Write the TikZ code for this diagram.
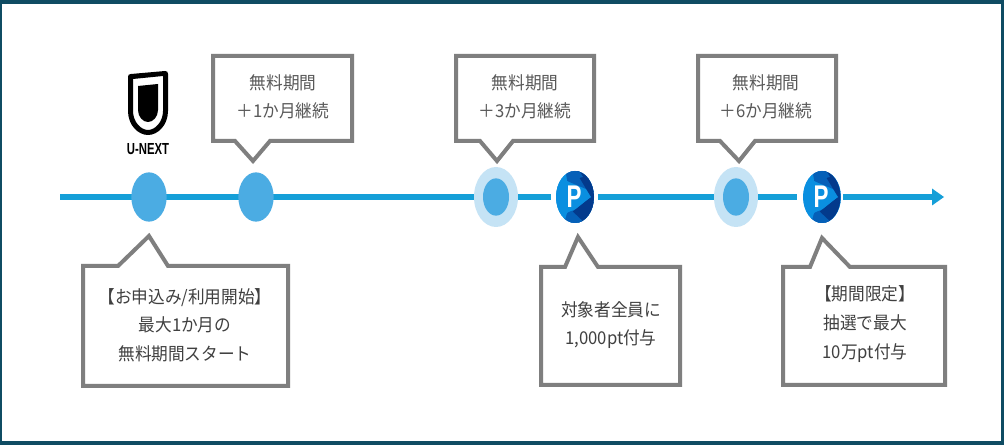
\documentclass[tikz,border=0pt]{standalone}
\usepackage{fontspec}
\setmainfont{Noto Sans CJK JP}
\newfontfamily\logofont{Liberation Sans}
\definecolor{framec}{HTML}{0F4C63}
\definecolor{linec}{HTML}{159FD8}
\definecolor{dotc}{HTML}{4BACE3}
\definecolor{haloc}{HTML}{C5E3F5}
\definecolor{boxc}{HTML}{7F7F7F}
\definecolor{textc}{HTML}{404040}
\definecolor{uptextc}{HTML}{595959}
\definecolor{pa}{HTML}{0A8FE0}
\definecolor{pb}{HTML}{0560B8}
\definecolor{pc}{HTML}{033A8C}
\usetikzlibrary{shapes.geometric,calc}
\tikzset{
  callout/.style={draw=boxc,line width=3pt,fill=white,line join=miter,miter limit=10},
  calltext/.style={text=textc,font=\fontsize{12.5}{20.3}\selectfont,align=center,inner sep=0pt,yscale=1.06},
  uptext/.style={calltext,text=uptextc,font=\fontsize{12.5}{19.6}\selectfont},
  timeline/.style={draw=linec,line width=3.8pt},
  dot/.style={ellipse,fill=dotc,minimum width=26.5pt,minimum height=37pt,inner sep=0pt},
  halo/.style={ellipse,fill=haloc,minimum width=33pt,minimum height=45pt,inner sep=0pt},
  innerdot/.style={ellipse,fill=dotc,minimum width=19.5pt,minimum height=28pt,inner sep=0pt},
  pmark/.style={ellipse,fill=pa,minimum width=28.5pt,minimum height=39pt,inner sep=0pt},
}
\newcommand{\pointmark}[3]{%
  \node[pmark] (#1) at (#2,197) {};
  \begin{scope}[shift={(#2,197)}]
    \clip (0,0) ellipse [x radius=#3,y radius=26];
    \fill[pb] (-10,-30) -- (30,-30) -- (30,0) -- (-8,-16) -- cycle;
    \fill[pb] (-14,30) -- (30,30) -- (30,0) -- (-8,16) -- cycle;
    \fill[pc] (-2,-30) -- (30,-30) -- (30,30) -- (8,30) -- (-4,16) -- (16,0) -- cycle;
    \fill[pb] (-14,30) -- (14,30) -- (-3,14) -- (-9,16) -- cycle;
    \fill[pb] (-10,-30) -- (2,-30) -- (8,-20) -- (-8,-16) -- cycle;
    \fill[pa] (-30,-30) -- (-10,-30) -- (-8,-16) -- (16,0) -- (-8,16) -- (-12,30) -- (-30,30) -- cycle;
  \end{scope}
  \node[text=white,font=\logofont\bfseries\fontsize{21}{21}\selectfont,inner sep=0pt,xscale=0.8,yscale=1.12] (#1t) at ($(#2,197)+(-1,0)$) {P};
}
\begin{document}
\begin{tikzpicture}[x=0.75pt,y=-0.75pt]
\useasboundingbox (0,0) rectangle (1004,445);
\fill[framec] (0,0) rectangle (1004,445);
\fill[white] (2,4) rectangle (1001,441);

% timeline
\coordinate (s0) at (60,197);
\coordinate (s1) at (474,197);
\coordinate (s2) at (518,197);
\coordinate (s3) at (551,197);
\coordinate (s4) at (598,197);
\coordinate (s5) at (714,197);
\coordinate (s6) at (758,197);
\coordinate (s7) at (797,197);
\coordinate (s8) at (843,197);
\coordinate (s9) at (933,197);
\draw[timeline] (s0) -- (s1);
\draw[timeline] (s2) -- (s3);
\draw[timeline] (s4) -- (s5);
\draw[timeline] (s6) -- (s7);
\draw[timeline] (s8) -- (s9);
\coordinate (hu) at (932,188.5);
\coordinate (hd) at (932,205.5);
\coordinate (ht) at (944,197);
\fill[linec] (hu) -- (ht) -- (hd) -- cycle;

% markers
\node[dot] (m1) at (149,197) {};
\node[dot] (m2) at (256,197) {};
\node[halo] (h3) at (496,197) {};
\node[innerdot] (m3) at (496,197) {};
\node[halo] (h4) at (736,197) {};
\node[innerdot] (m4) at (736,197) {};
\pointmark{p1}{575}{19}
\pointmark{p2}{822}{18.5}

% upper callouts
\draw[callout] (213,56) -- (352,56) -- (352,141) -- (270,141) -- (253,161) -- (235,141) -- (213,141) -- cycle;
\node[uptext] (t1) at (283,97) {無料期間\\＋1か月継続};
\draw[callout] (456,56) -- (594,56) -- (594,141) -- (513,141) -- (497,161) -- (480,141) -- (456,141) -- cycle;
\node[uptext] (t2) at (525,97) {無料期間\\＋3か月継続};
\draw[callout] (698,56) -- (836,56) -- (836,141) -- (755,141) -- (739,161) -- (720,141) -- (698,141) -- cycle;
\node[uptext] (t3) at (766,97) {無料期間\\＋6か月継続};

% lower callouts
\draw[callout] (83,266) -- (118,266) -- (149,236) -- (168,266) -- (288,266) -- (288,386) -- (83,386) -- cycle;
\node[calltext] (t4) at (185,325) {【お申込み/利用開始】\\最大1か月の\\無料期間スタート};
\draw[callout] (541,267) -- (565,267) -- (578,237) -- (598,267) -- (680,267) -- (680,385) -- (541,385) -- cycle;
\node[calltext] (t5) at (611,325) {対象者全員に\\1,000pt付与};
\draw[callout] (783,267) -- (810,267) -- (822,238) -- (850,267) -- (945,267) -- (945,385) -- (783,385) -- cycle;
\node[calltext] (t6) at (865,324) {【期間限定】\\抽選で最大\\10万pt付与};

% logo
\fill[black,even odd rule]
  (128,77) .. controls (128,75) and (129,74) .. (131,74) -- (165,71) .. controls (167,71) and (168,72) .. (168,74)
  -- (168,111) .. controls (168,125) and (158,135) .. (148,135) .. controls (138,135) and (128,125) .. (128,111) -- cycle
  (133,79) -- (133,111) .. controls (133,122) and (141,130) .. (148,130) .. controls (155,130) and (163,122) .. (163,111) -- (163,76) -- cycle;
\fill[black] (138,86) -- (158,84) -- (158,110) .. controls (158,117) and (153,122) .. (148,122) .. controls (143,122) and (138,117) .. (138,110) -- cycle;
\node[font=\logofont\bfseries\fontsize{10}{10}\selectfont,text=black,inner sep=0pt,xscale=0.85,yscale=1.2] (logo) at (148,149) {U-NEXT};
\end{tikzpicture}
\end{document}
